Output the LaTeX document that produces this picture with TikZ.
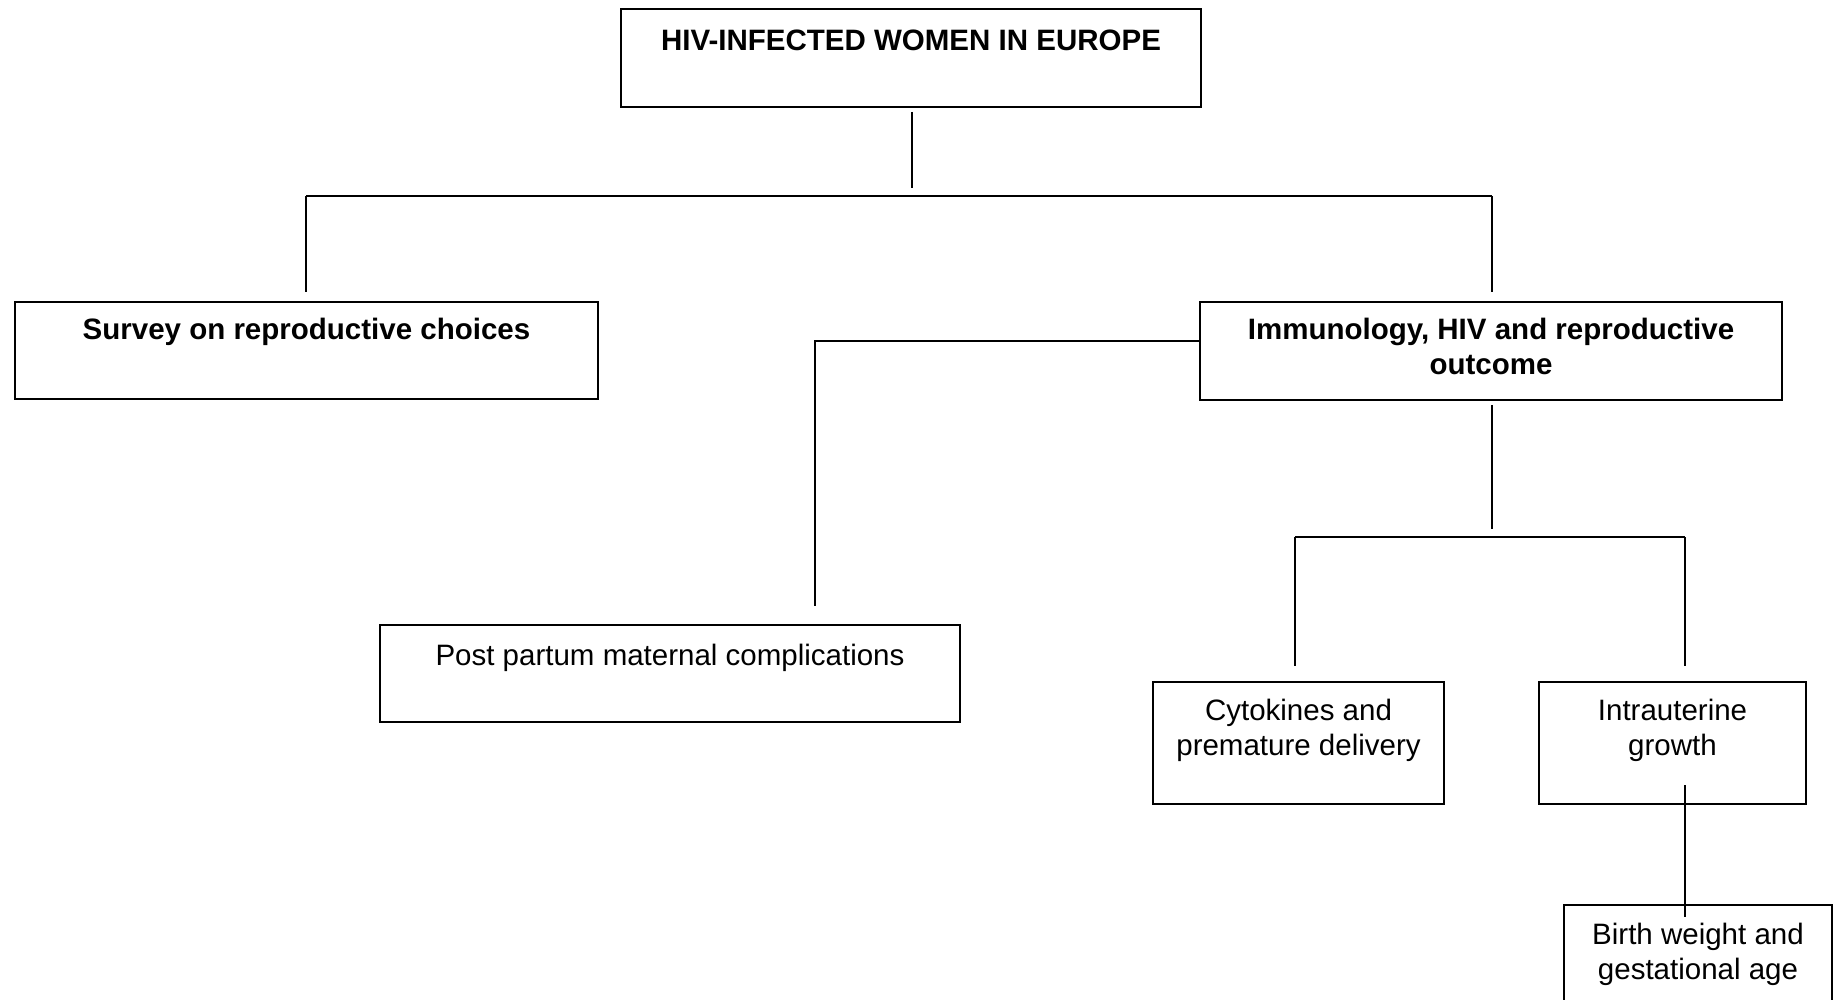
\documentclass[tikz,border=0pt]{standalone}
\usepackage{fontspec}
\setmainfont{Liberation Sans}
\begin{document}
\begin{tikzpicture}[x=0.5pt,y=-0.5pt,
  box/.style={draw, line width=1pt, inner sep=0pt},
  txt/.style={inner sep=0pt, anchor=base, align=center, font=\fontsize{14.75}{17.5}\selectfont},
  btxt/.style={txt, font=\fontsize{14.75}{17.5}\selectfont\bfseries},
  conn/.style={line width=0.9pt}]
\useasboundingbox (0,0) rectangle (1838,1000);
\clip (0,0) rectangle (1838,1000);
% boxes
\node[box, minimum width=290pt, minimum height=49pt] (top) at (911,58) {};
\node[box, minimum width=291.5pt, minimum height=48.5pt] (survey) at (306.5,350.5) {};
\node[box, minimum width=291pt, minimum height=49pt] (immun) at (1491,351) {};
\node[box, minimum width=290pt, minimum height=48.5pt] (post) at (670,673.5) {};
\node[box, minimum width=145.5pt, minimum height=61pt] (cyto) at (1298.5,743) {};
\node[box, minimum width=133.5pt, minimum height=61pt] (intra) at (1672.5,743) {};
\node[box, minimum width=134pt, minimum height=87.5pt] (birth) at (1698,992.5) {};
% texts (multi-line: base anchor = last line's baseline)
\node[btxt] (tTop) at (911,51) {HIV-INFECTED WOMEN IN EUROPE};
\node[btxt] (tSurvey) at (306.5,340) {Survey on reproductive choices};
\node[btxt] (tImmun) at (1491,375) {Immunology, HIV and reproductive\\outcome};
\node[txt] (tPost) at (670,665) {Post partum maternal complications};
\node[txt] (tCyto) at (1298.5,755) {Cytokines and\\premature delivery};
\node[txt] (tIntra) at (1672.5,755) {Intrauterine\\growth};
\node[txt] (tBirth) at (1698,979) {Birth weight and\\gestational age};
% junctions
\coordinate (j0) at (912,196);
\coordinate (jL) at (306,196);
\coordinate (jR) at (1492,196);
\coordinate (k0) at (815,341);
\coordinate (j1) at (1492,537);
\coordinate (jC) at (1295,537);
\coordinate (jI) at (1685,537);
% connectors
\draw[conn, shorten <=2pt, shorten >=4pt] (top.south -| j0) -- (j0);
\draw[conn] (jL) -- (jR);
\draw[conn, shorten >=4.5pt] (jL) -- (survey.north -| jL);
\draw[conn, shorten >=4.5pt] (jR) -- (immun.north -| jR);
\draw[conn, shorten >=9pt] (immun.west |- k0) -- (k0) -- (post.north -| k0);
\draw[conn, shorten <=2pt, shorten >=4pt] (immun.south -| j1) -- (j1);
\draw[conn] (jC) -- (jI);
\draw[conn, shorten >=7.5pt] (jC) -- (cyto.north -| jC);
\draw[conn, shorten >=7.5pt] (jI) -- (intra.north -| jI);
\draw[conn, shorten <=-10pt, shorten >=-6.5pt] (intra.south -| jI) -- (birth.north -| jI);
\end{tikzpicture}
\end{document}
